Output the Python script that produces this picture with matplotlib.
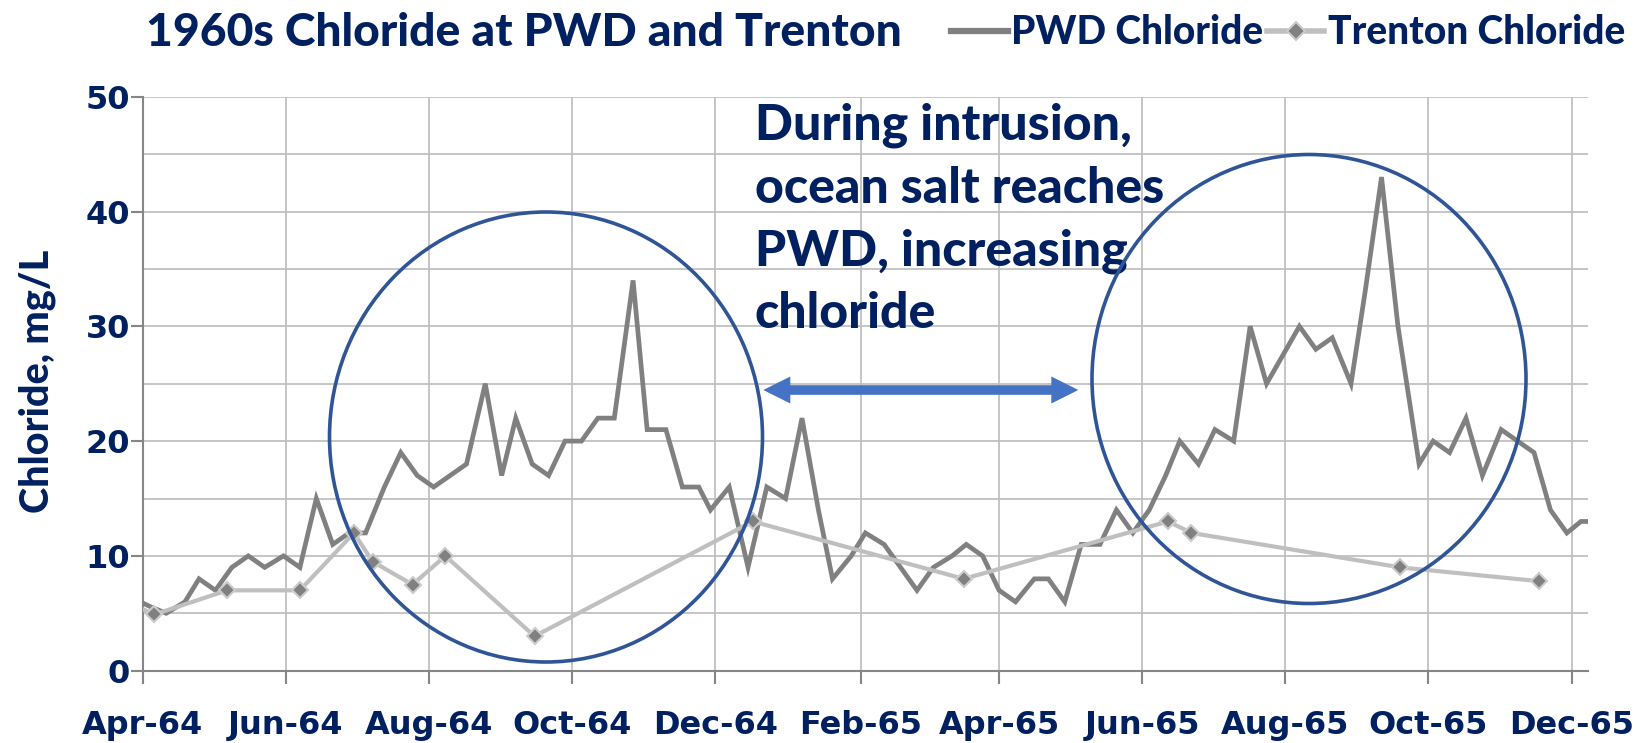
import matplotlib
matplotlib.use("Agg")
import matplotlib.pyplot as plt
from matplotlib.patches import Ellipse, Polygon
from matplotlib.lines import Line2D
import numpy as np
import pandas as pd

# ---------------- data ----------------
pwd_dates = [
    "1964-03-28", "1964-04-04", "1964-04-11", "1964-04-19", "1964-04-25", "1964-05-02",
    "1964-05-09", "1964-05-16", "1964-05-23", "1964-05-31", "1964-06-07", "1964-06-14",
    "1964-06-21", "1964-06-28", "1964-07-05", "1964-07-13", "1964-07-20", "1964-07-27",
    "1964-08-03", "1964-08-10", "1964-08-17", "1964-08-25", "1964-09-01", "1964-09-07",
    "1964-09-14", "1964-09-21", "1964-09-28", "1964-10-05", "1964-10-12", "1964-10-19",
    "1964-10-27", "1964-11-02", "1964-11-10", "1964-11-17", "1964-11-24", "1964-11-29",
    "1964-12-07", "1964-12-15", "1964-12-23", "1964-12-31", "1965-01-07", "1965-01-14",
    "1965-01-20", "1965-01-28", "1965-02-03", "1965-02-11", "1965-02-18", "1965-02-25",
    "1965-03-04", "1965-03-12", "1965-03-18", "1965-03-25", "1965-04-01", "1965-04-08",
    "1965-04-16", "1965-04-22", "1965-04-29", "1965-05-06", "1965-05-14", "1965-05-21",
    "1965-05-28", "1965-06-04", "1965-06-11", "1965-06-17", "1965-06-25", "1965-07-02",
    "1965-07-10", "1965-07-17", "1965-07-24", "1965-08-07", "1965-08-14", "1965-08-21",
    "1965-08-29", "1965-09-04", "1965-09-11", "1965-09-18", "1965-09-27", "1965-10-03",
    "1965-10-10", "1965-10-17", "1965-10-24", "1965-11-01", "1965-11-08", "1965-11-15",
    "1965-11-22", "1965-11-29", "1965-12-05", "1965-12-12",
]
pwd_values = [
    6.3, 5.6, 5, 6, 8, 7,
    9, 10, 9, 10, 9, 15,
    11, 12, 12, 16, 19, 17,
    16, 17, 18, 25, 17, 22,
    18, 17, 20, 20, 22, 22,
    34, 21, 21, 16, 16, 14,
    16, 9, 16, 15, 22, 14,
    8, 10, 12, 11, 9, 7,
    9, 10, 11, 10, 7, 6,
    8, 8, 6, 11, 11, 14,
    12, 14, 17, 20, 18, 21,
    20, 30, 25, 30, 28, 29,
    25, 33, 43, 30, 18, 20,
    19, 22, 17, 21, 20, 19,
    14, 12, 13, 13,
]

trenton_dates = [
    "1964-03-25", "1964-04-06", "1964-05-07", "1964-06-07", "1964-06-30", "1964-07-08",
    "1964-07-25", "1964-08-08", "1964-09-15", "1964-12-17", "1965-03-17", "1965-06-12",
    "1965-06-22", "1965-09-19", "1965-11-17",
]
trenton_values = [6, 4.9, 7, 7, 12, 9.5, 7.5, 10, 3, 13, 8, 13, 12, 9, 7.8]

x_tick_dates = ["1964-04-01", "1964-06-01", "1964-08-01", "1964-10-01", "1964-12-01",
                "1965-02-01", "1965-04-01", "1965-06-01", "1965-08-01", "1965-10-01",
                "1965-12-01"]
x_tick_labels = ["Apr-64", "Jun-64", "Aug-64", "Oct-64", "Dec-64", "Feb-65",
                 "Apr-65", "Jun-65", "Aug-65", "Oct-65", "Dec-65"]
y_ticks = [0, 10, 20, 30, 40, 50]
y_minor = [5, 15, 25, 35, 45]
x_range = ["1964-04-01", "1965-12-08"]

title = "1960s Chloride at PWD and Trenton"
note = "During intrusion,\nocean salt reaches\nPWD, increasing\nchloride"
series_names = ["PWD Chloride", "Trenton Chloride"]

# ---------------- style ----------------
NAVY = "#002060"
GRID = "#C0C0C0"
AXIS = "#868686"
CIRCLE = "#2F5597"
ARROW = "#4472C4"
SANS = ["Lato", "DejaVu Sans"]
TICKFONT = ["DejaVu Sans"]
HEAVY = 900

W, H = 1637, 743
fig = plt.figure(figsize=(W / 100, H / 100), dpi=100)
ax = fig.add_axes([142.7 / W, (H - 670.7) / H, (1588 - 142.7) / W, (670.7 - 96.7) / H])

pd_x = pd.to_datetime(pwd_dates)
tr_x = pd.to_datetime(trenton_dates)

ax.plot(pd_x, pwd_values, color="#808080", lw=3.4, zorder=3,
        solid_joinstyle="miter", solid_capstyle="butt")
ax.plot(tr_x, trenton_values, color="#BFBFBF", lw=3.0, zorder=4,
        marker="D", ms=8, mfc="#808080", mec="#CCCCCC", mew=1.5)

ax.set_xlim(pd.to_datetime(x_range[0]), pd.to_datetime(x_range[1]))
ax.set_ylim(0, 50)
ax.set_xticks(pd.to_datetime(x_tick_dates))
ax.set_xticklabels(x_tick_labels)
ax.set_yticks(y_ticks)
ax.set_yticks(y_minor, minor=True)

ax.grid(True, which="major", axis="x", color=GRID, lw=1.3, zorder=0)
ax.grid(True, which="both", axis="y", color=GRID, lw=1.3, zorder=0)
ax.set_axisbelow(True)

for s in ["top", "right"]:
    ax.spines[s].set_visible(False)
for s in ["left", "bottom"]:
    ax.spines[s].set_color(AXIS)
    ax.spines[s].set_linewidth(1.5)

ax.tick_params(axis="x", which="major", length=9, width=1.5, color=AXIS, pad=19,
               labelsize=23, labelcolor=NAVY)
ax.tick_params(axis="y", which="major", length=9, width=1.5, color=AXIS, pad=0,
               labelsize=23, labelcolor=NAVY)
ax.tick_params(axis="y", which="minor", length=0)
for lab in ax.get_xticklabels() + ax.get_yticklabels():
    lab.set_fontweight("bold")
    lab.set_family(TICKFONT)

# y label
fig.text(37.5 / W, 1 - 381 / H, "Chloride, mg/L", rotation=90, ha="center", va="center",
         family=SANS, fontweight=HEAVY, fontsize=28.5, color=NAVY)

# title
fig.text(146 / W, 1 - 33.5 / H, title, ha="left", va="center", family=SANS,
         fontweight=HEAVY, fontsize=33.3, color=NAVY)

# legend
handles = [
    Line2D([], [], color="#808080", lw=4.5),
    Line2D([], [], color="#BFBFBF", lw=4, marker="D", ms=9, mfc="#808080",
           mec="#CCCCCC", mew=1.5),
]
leg = fig.legend(handles, series_names, loc="center right",
                 bbox_to_anchor=(1625 / W, 1 - 33 / H), bbox_transform=fig.transFigure,
                 ncol=2, frameon=False, handlelength=1.45, handletextpad=0.1,
                 columnspacing=0.1, borderpad=0, borderaxespad=0,
                 prop={"family": SANS, "weight": HEAVY, "size": 28})
for t in leg.get_texts():
    t.set_color(NAVY)

# annotation text
fig.text(755 / W, 1 - 103 / H, note, ha="left", va="top", family=SANS,
         fontweight=HEAVY, fontsize=36, color=NAVY, linespacing=1.47)

# circles (ellipses) drawn in pixel-inch space
tr = fig.dpi_scale_trans
for (cx, cy, w, h) in [(546, 437, 433, 450), (1309, 379, 434, 449)]:
    e = Ellipse((cx / 100, (H - cy) / 100), w / 100, h / 100, transform=tr,
                fill=False, ec=CIRCLE, lw=2.6, zorder=10)
    fig.add_artist(e)

# double-headed arrow
xl, xr, yc = 763.3, 1078.3, 390
hl, hw, sw = 27, 13.5, 4.8
pts = [(xl, yc), (xl + hl, yc - hw), (xl + hl, yc - sw), (xr - hl, yc - sw),
       (xr - hl, yc - hw), (xr, yc), (xr - hl, yc + hw), (xr - hl, yc + sw),
       (xl + hl, yc + sw), (xl + hl, yc + hw)]
poly = Polygon([(px / 100, (H - py) / 100) for px, py in pts], closed=True,
               transform=tr, fc=ARROW, ec="none", zorder=10)
fig.add_artist(poly)

fig.savefig("out.png", dpi=100)
